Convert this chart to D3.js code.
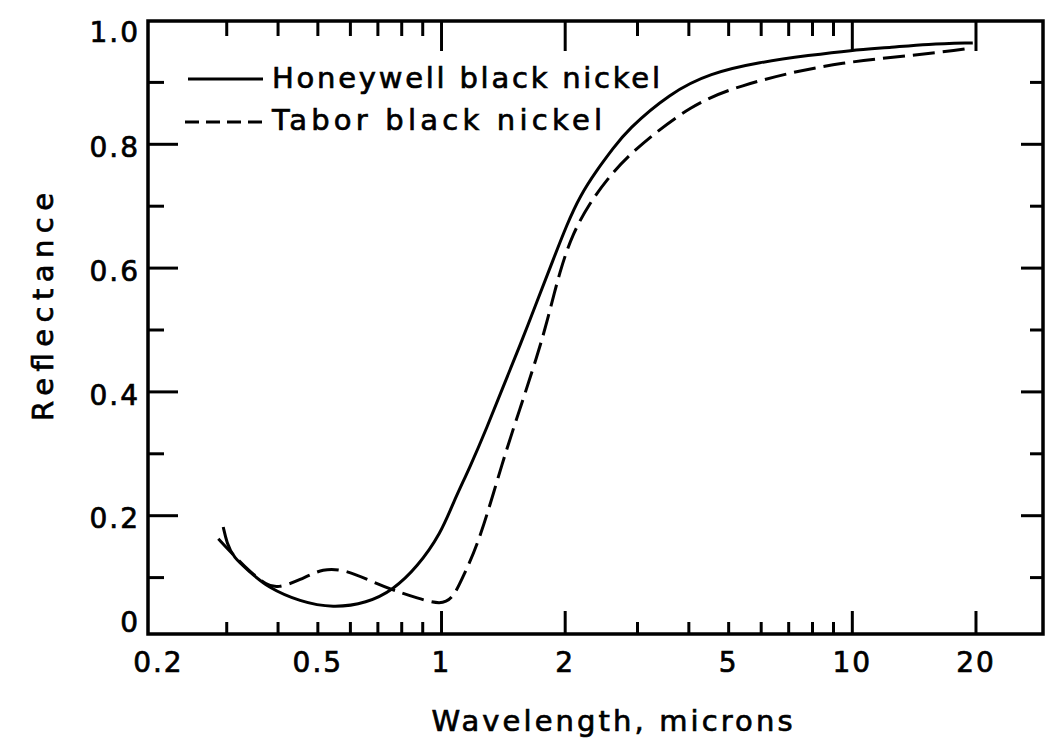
<!DOCTYPE html>
<html>
<head>
<meta charset="utf-8">
<script src="https://cdn.jsdelivr.net/npm/d3@7"></script>
<style>
  body { margin: 0; background: #fff; }
  text { font-family: "DejaVu Sans", sans-serif; fill: #000; stroke: #000; stroke-width: 0.7px; }
</style>
</head>
<body>
<div id="chart"></div>
<script>
// values (wavelength in microns, reflectance)
const honeywellWl = [0.295, 0.301, 0.312, 0.343, 0.377, 0.454, 0.546, 0.66, 0.764, 0.875, 1.0, 1.07, 1.177, 1.294, 1.415, 1.557, 1.712, 1.873, 2.026, 2.18, 2.397, 2.62, 2.835, 3.61, 4.51, 5.97, 7.9, 9.9, 12.6, 15.2, 19.7];
const honeywellR  = [0.181, 0.155, 0.132, 0.108, 0.084, 0.060, 0.050, 0.058, 0.079, 0.116, 0.171, 0.220, 0.278, 0.342, 0.407, 0.474, 0.545, 0.612, 0.670, 0.716, 0.758, 0.792, 0.822, 0.882, 0.914, 0.932, 0.943, 0.951, 0.956, 0.961, 0.963];

const taborWl = [0.287, 0.312, 0.343, 0.377, 0.399, 0.454, 0.516, 0.59, 0.683, 0.764, 0.875, 1.0, 1.07, 1.13, 1.244, 1.415, 1.557, 1.712, 1.81, 1.948, 2.095, 2.30, 2.534, 2.88, 4.1, 5.43, 7.18, 9.5, 12.6, 16.6, 19.6];
const taborR  = [0.162, 0.136, 0.108, 0.087, 0.082, 0.095, 0.115, 0.111, 0.092, 0.079, 0.066, 0.055, 0.066, 0.100, 0.160, 0.289, 0.372, 0.456, 0.511, 0.596, 0.656, 0.704, 0.742, 0.785, 0.866, 0.895, 0.916, 0.931, 0.940, 0.948, 0.955];

const xTickLabels = [0.2, 0.5, 1, 2, 5, 10, 20];
const xLongTicks = [1, 2, 10, 20];
const xShortTicks = [0.3, 0.4, 0.5, 0.6, 0.7, 0.8, 0.9, 3, 4, 5, 6, 7, 8, 9];
const yLabelTicks = [0, 0.2, 0.4, 0.6, 0.8, 1.0];
const yMajorTicks = [0.2, 0.4, 0.6, 0.8];
const yMinorTicks = [0.1, 0.3, 0.5, 0.7, 0.9];
const seriesNames = ["Honeywell black nickel", "Tabor black nickel"];

const width = 1063, height = 744;
const plot = {left: 148, right: 1043, top: 21, bottom: 634};

const svg = d3.select("#chart")
  .append("svg")
    .attr("width", width)
    .attr("height", height);

const x = d3.scaleLog().domain([0.1935, 29.2]).range([plot.left, plot.right]);
const y = d3.scaleLinear().domain([0, 1]).range([639, 20]);

const honeywell = honeywellWl.map((w, i) => [w, honeywellR[i]]);
const tabor = taborWl.map((w, i) => [w, taborR[i]]);

// helper to draw tick-only axes
function ticks(axis, tr) {
  const g = svg.append("g").attr("transform", tr).call(axis);
  g.select(".domain").remove();
  g.selectAll("line").attr("stroke", "#000").attr("stroke-width", 3);
  return g;
}

ticks(d3.axisBottom(x).tickValues(xLongTicks).tickSize(-23).tickFormat(""), `translate(0,${plot.bottom})`);
ticks(d3.axisBottom(x).tickValues(xShortTicks).tickSize(-12).tickFormat(""), `translate(0,${plot.bottom})`);
ticks(d3.axisTop(x).tickValues(xLongTicks).tickSize(-30).tickFormat(""), `translate(0,${plot.top})`);
ticks(d3.axisTop(x).tickValues(xShortTicks).tickSize(-15).tickFormat(""), `translate(0,${plot.top})`);
ticks(d3.axisLeft(y).tickValues(yMajorTicks).tickSize(-30).tickFormat(""), `translate(${plot.left},0)`);
ticks(d3.axisLeft(y).tickValues(yMinorTicks).tickSize(-16).tickFormat(""), `translate(${plot.left},0)`);
ticks(d3.axisRight(y).tickValues(yMajorTicks).tickSize(-22).tickFormat(""), `translate(${plot.right},0)`);
ticks(d3.axisRight(y).tickValues(yMinorTicks).tickSize(-13).tickFormat(""), `translate(${plot.right},0)`);

// tick labels
const xl = ticks(d3.axisBottom(x).tickValues(xTickLabels).tickSize(0).tickPadding(18).tickFormat(d => d),
  `translate(0,${plot.bottom})`);
xl.attr("font-family", null).attr("font-size", null);
xl.selectAll("text").attr("font-size", 28).style("letter-spacing", "2px")
  .attr("dx", d => d === 0.2 ? 4 : 0);

const yl = ticks(d3.axisLeft(y).tickValues(yLabelTicks).tickSize(0).tickPadding(8)
    .tickFormat(d => d === 0 ? "0" : d.toFixed(1)), `translate(${plot.left},0)`);
yl.attr("font-family", null).attr("font-size", null);
yl.selectAll("text").attr("font-size", 28).style("letter-spacing", "2px")
  .attr("dy", d => d === 0 ? "-0.28em" : d === 1 ? "0.78em" : "0.45em");

// frame
svg.append("rect")
  .attr("x", plot.left).attr("y", plot.top)
  .attr("width", plot.right - plot.left).attr("height", plot.bottom - plot.top)
  .attr("fill", "none").attr("stroke", "#000").attr("stroke-width", 3.5);

const line = d3.line()
  .x(d => x(d[0]))
  .y(d => y(d[1]))
  .curve(d3.curveBasis);

svg.append("path").datum(honeywell)
  .attr("d", line).attr("fill", "none").attr("stroke", "#000").attr("stroke-width", 3);
svg.append("path").datum(tabor)
  .attr("d", line).attr("fill", "none").attr("stroke", "#000").attr("stroke-width", 3)
  .attr("stroke-dasharray", "22,8");

// legend
const legend = svg.append("g");
legend.append("line").attr("x1", 188).attr("x2", 263).attr("y1", 79).attr("y2", 79)
  .attr("stroke", "#000").attr("stroke-width", 3);
legend.append("line").attr("x1", 185).attr("x2", 263).attr("y1", 122).attr("y2", 122)
  .attr("stroke", "#000").attr("stroke-width", 3).attr("stroke-dasharray", "14,7");
legend.append("text").attr("x", 272).attr("y", 88).attr("font-size", 29)
  .attr("textLength", 388).attr("lengthAdjust", "spacing").text(seriesNames[0]);
legend.append("text").attr("x", 272).attr("y", 130).attr("font-size", 29)
  .attr("textLength", 330).attr("lengthAdjust", "spacing").text(seriesNames[1]);

// axis titles
svg.append("text")
  .attr("x", 612).attr("y", 731)
  .attr("text-anchor", "middle").attr("font-size", 29)
  .attr("textLength", 361).attr("lengthAdjust", "spacing")
  .text("Wavelength, microns");

svg.append("text")
  .attr("transform", "translate(53,307) rotate(-90)")
  .attr("text-anchor", "middle").attr("font-size", 29)
  .attr("textLength", 228).attr("lengthAdjust", "spacing")
  .text("Reflectance");
</script>
</body>
</html>
